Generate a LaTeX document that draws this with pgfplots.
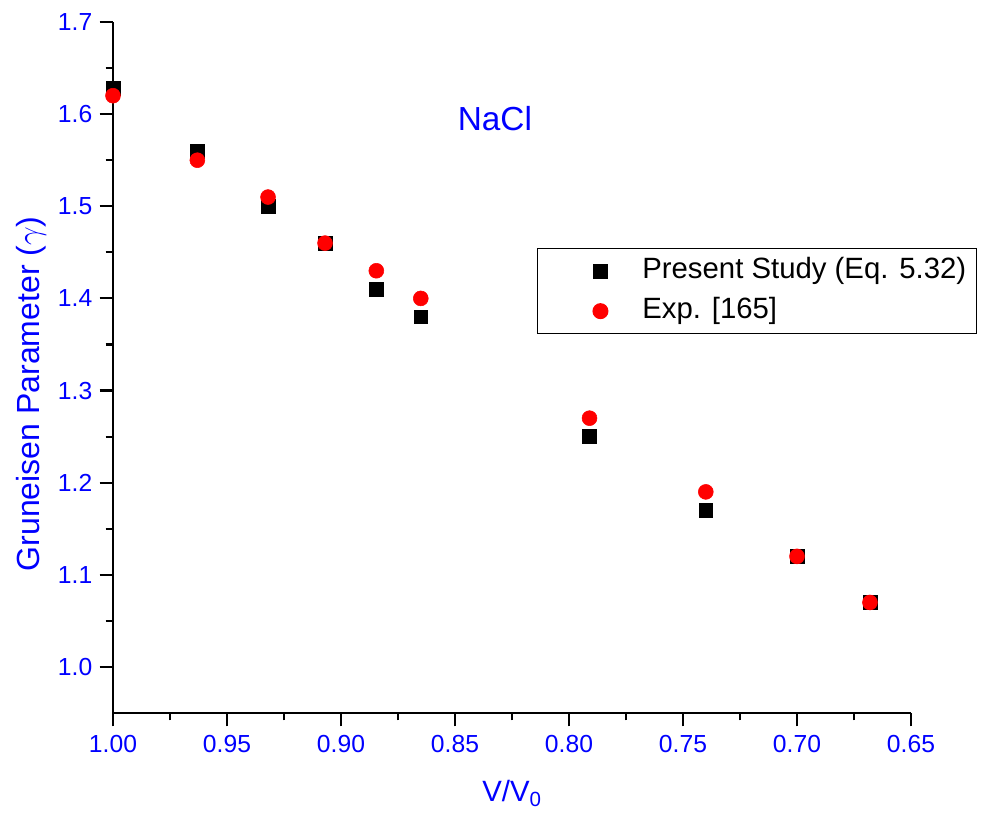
\documentclass[border=0pt]{standalone}
\usepackage{pgfplots}
\pgfplotsset{compat=1.18}
\usepackage{fontspec}
\setmainfont{Liberation Sans}
\definecolor{lblue}{RGB}{0,0,255}
\definecolor{lred}{RGB}{255,0,0}
\begin{document}
\begin{tikzpicture}
\begin{axis}[
  scale only axis,
  width=598.5pt, height=518.25pt,
  x dir=reverse,
  xmin=0.65, xmax=1.00,
  ymin=0.95, ymax=1.7,
  axis lines*=left,
  axis line style={line width=1.8pt, black},
  xtick={0.65,0.70,0.75,0.80,0.85,0.90,0.95,1.00},
  ytick={1.0,1.1,1.2,1.3,1.4,1.5,1.6,1.7},
  minor x tick num=1,
  minor y tick num=1,
  tick align=outside,
  major tick length=10pt,
  minor tick length=5.5pt,
  tick style={line width=1.6pt, black},
  x tick label style={/pgf/number format/fixed, /pgf/number format/fixed zerofill, /pgf/number format/precision=2, /pgf/number format/assume math mode=true, yshift=-3pt},
  y tick label style={/pgf/number format/fixed, /pgf/number format/fixed zerofill, /pgf/number format/precision=1, /pgf/number format/assume math mode=true, xshift=-2pt},
  ticklabel style={font=\fontsize{18.5}{20}\selectfont, text=lblue},
  xlabel={V/V$_\mathrm{0}$},
  ylabel={Gruneisen Parameter ($\gamma$)},
  xlabel style={font=\fontsize{22}{24}\selectfont, text=lblue, yshift=-14pt},
  ylabel style={font=\fontsize{24}{26}\selectfont, text=lblue, at={(ticklabel cs:0.462)}, yshift=2pt},
  legend style={at={(0.531,0.673)}, anchor=north west, draw=black, line width=0.8pt,
    font=\fontsize{22}{24}\selectfont, inner xsep=7.5pt, inner ysep=6.5pt,
    row sep=9pt, column sep=0pt, legend cell align=left,
    nodes={inner sep=0pt, text height=16pt, text depth=5pt}},
  legend image code/.code={\path (-39.5pt,0pt) (31pt,0pt); \draw[#1] plot coordinates {(0pt,0pt)};},
]
\addplot[only marks, mark=square*, mark size=5.2pt, color=black] coordinates {
(1.000,1.628) (0.963,1.56) (0.932,1.50) (0.907,1.46) (0.8845,1.41) (0.865,1.38)
(0.791,1.25) (0.740,1.17) (0.700,1.12) (0.668,1.07)
};
\addlegendentry{Present Study (Eq. 5.32)}
\addplot[only marks, mark=*, mark size=5.6pt, color=lred] coordinates {
(1.000,1.62) (0.963,1.55) (0.932,1.51) (0.907,1.46) (0.8845,1.43) (0.865,1.40)
(0.791,1.27) (0.740,1.19) (0.700,1.12) (0.668,1.07)
};
\addlegendentry{Exp. [165]}
\node[text=lblue, font=\fontsize{25}{28}\selectfont] at (axis cs:0.8325,1.595) {NaCl};
\coordinate (SW) at (axis cs:1.00,0.95);
\end{axis}
\pgfresetboundingbox
\useasboundingbox (SW) ++(-84.75pt,-81pt) rectangle ++(738.75pt,615.75pt);
\end{tikzpicture}
\end{document}
